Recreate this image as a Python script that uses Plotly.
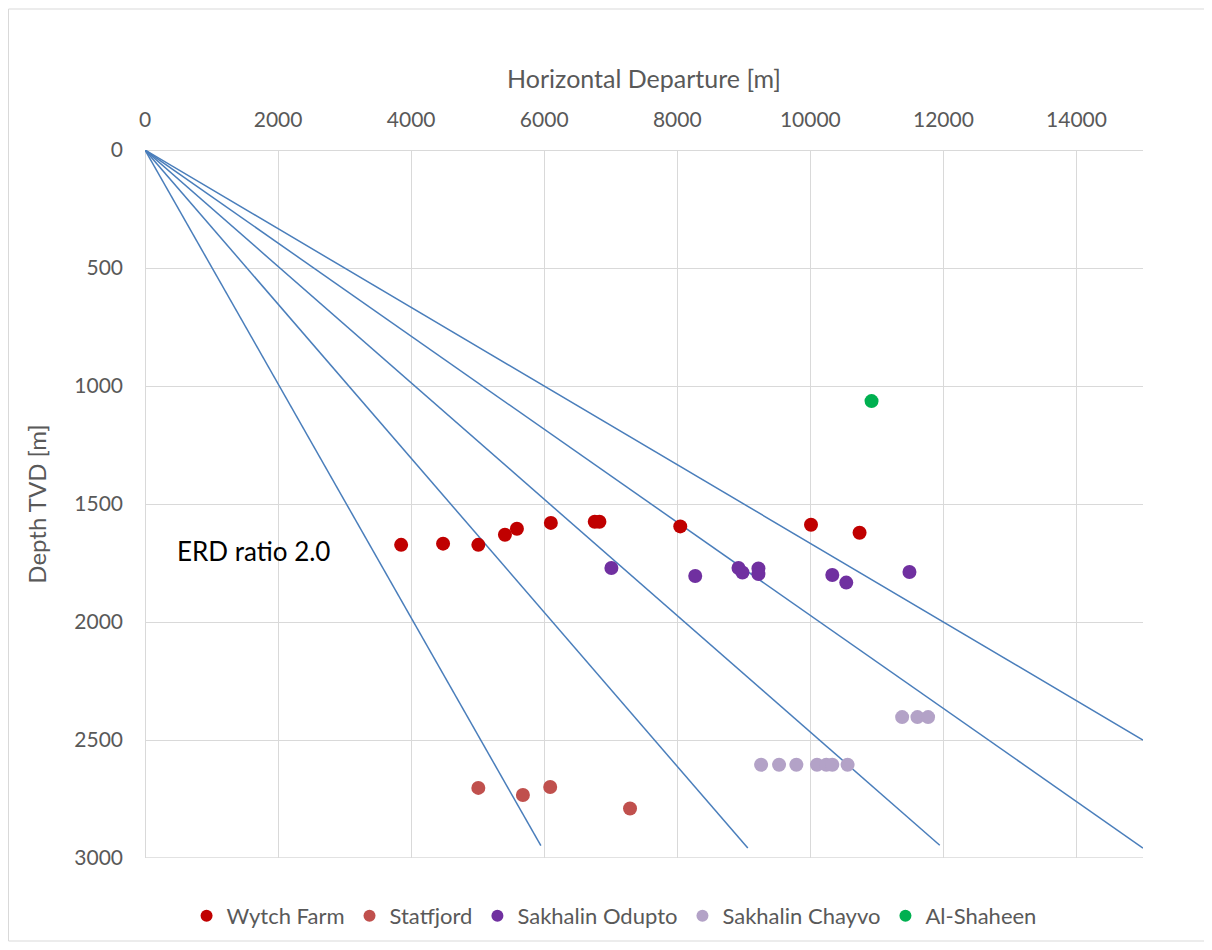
import plotly.graph_objects as go

# ---- data ----
wytch_x = [3850, 4480, 5010, 5410, 5590, 6100, 6760, 6830, 8045, 10010, 10740]
wytch_y = [1673, 1668, 1673, 1630, 1605, 1580, 1575, 1575, 1595, 1588, 1622]

statfjord_x = [5010, 5680, 6090, 7290]
statfjord_y = [2703, 2733, 2699, 2790]

odupto_x = [7010, 8270, 8920, 8980, 9220, 9220, 10330, 10540, 11490]
odupto_y = [1771, 1805, 1771, 1790, 1773, 1797, 1801, 1833, 1788]

chayvo_x = [9260, 9530, 9790, 10100, 10240, 10330, 10560, 11380, 11610, 11770]
chayvo_y = [2605, 2605, 2605, 2605, 2605, 2605, 2605, 2403, 2403, 2403]

shaheen_x = [10920]
shaheen_y = [1064]

# ERD ratio reference lines: end points (start at origin)
erd_end_x = [5950, 9060, 11945, 15000, 15000]
erd_end_y = [2948, 2958, 2946, 2958, 2500]

x_ticks = [0, 2000, 4000, 6000, 8000, 10000, 12000, 14000]
x_tick_text = ["0", "2000", "4000", "6000", "8000", "10000", "12000", "14000"]
y_ticks = [0, 500, 1000, 1500, 2000, 2500, 3000]
y_tick_text = ["0", "500", "1000", "1500", "2000", "2500", "3000"]

FONT = "Lato"
GRAY = "#595959"
GRID = "#D9D9D9"
LINE = "#4A7EBB"

fig = go.Figure()

for ex, ey in zip(erd_end_x, erd_end_y):
    fig.add_trace(go.Scatter(x=[0, ex], y=[0, ey], mode="lines",
                             line=dict(color=LINE, width=1.5),
                             showlegend=False, hoverinfo="skip"))

series = [
    ("Wytch Farm", wytch_x, wytch_y, "#C00000"),
    ("Statfjord", statfjord_x, statfjord_y, "#C0504D"),
    ("Sakhalin Odupto", odupto_x, odupto_y, "#7030A0"),
    ("Sakhalin Chayvo", chayvo_x, chayvo_y, "#B3A2C7"),
    ("Al-Shaheen", shaheen_x, shaheen_y, "#00B050"),
]
for name, xs, ys, col in series:
    fig.add_trace(go.Scatter(x=xs, y=ys, mode="markers", name=name,
                             marker=dict(color=col, size=14, line=dict(width=0))))

fig.add_annotation(x=450, y=1701, text="ERD ratio 2.0", showarrow=False,
                   xanchor="left", yanchor="middle",
                   font=dict(family=FONT, size=26, color="#000000"))

# page has an 8px body margin; figure sized/offset to compensate
L, R, T, B = 137, 69, 142, 84
W, H = 1204, 934
pw, ph = W - L - R, H - T - B


def px_x(px):
    return (px - L) / pw


def px_y(py):
    return 1 - (py - T) / ph


# outer chart border
fig.add_shape(type="rect", xref="paper", yref="paper",
              x0=px_x(0.5), x1=px_x(W - 1), y0=px_y(H - 1), y1=px_y(1),
              line=dict(color="#D9D9D9", width=1), layer="below")
# bottom edge line at 3000
fig.add_shape(type="line", xref="paper", yref="y", x0=0, x1=1, y0=3000, y1=3000,
              line=dict(color=GRID, width=1.3), layer="below")

fig.update_layout(
    width=W, height=H,
    margin=dict(l=L, r=R, t=T, b=B, autoexpand=False),
    paper_bgcolor="white", plot_bgcolor="white",
    font=dict(family=FONT, color=GRAY, size=21),
    legend=dict(orientation="h", x=0.47, xanchor="center",
                y=px_y(908), yanchor="middle",
                font=dict(family=FONT, size=22, color=GRAY), itemsizing="constant",
                traceorder="normal"),
    xaxis=dict(side="top", range=[0, 15000], tickvals=x_ticks, ticktext=x_tick_text,
               showgrid=True, gridcolor=GRID, gridwidth=1.3,
               zeroline=True, zerolinecolor=GRID, zerolinewidth=1.3,
               showline=False, ticks="", ticklabelstandoff=18,
               title=dict(text="Horizontal Departure [m]", standoff=10,
                          font=dict(family=FONT, size=25, color=GRAY)),
               tickfont=dict(family=FONT, size=21, color=GRAY)),
    yaxis=dict(range=[3000, 0], tickvals=y_ticks, ticktext=y_tick_text,
               showgrid=True, gridcolor=GRID, gridwidth=1.3,
               zeroline=True, zerolinecolor=GRID, zerolinewidth=1.3,
               showline=False, ticks="", ticklabelstandoff=21,
               title=dict(text="Depth TVD [m]", standoff=20,
                          font=dict(family=FONT, size=24, color=GRAY)),
               tickfont=dict(family=FONT, size=21, color=GRAY)),
)

fig.write_html("out.html")
